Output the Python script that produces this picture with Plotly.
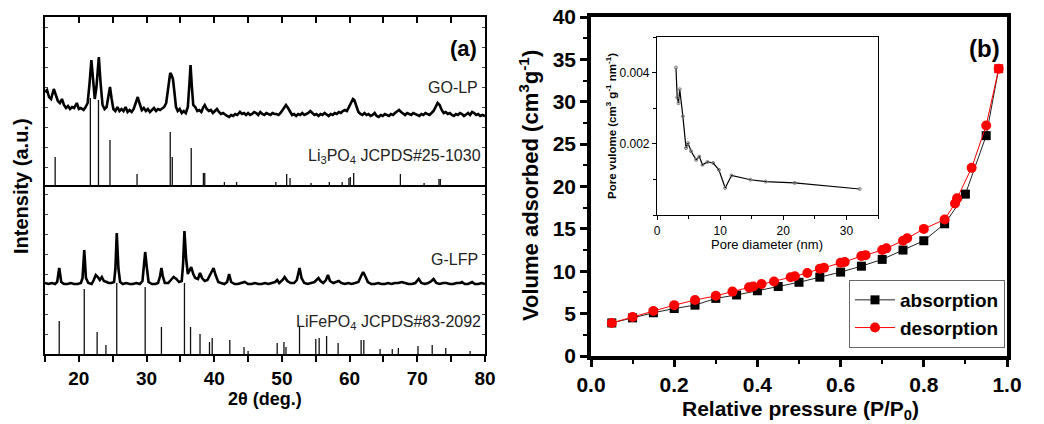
import plotly.graph_objects as go

# page offset of the plot div (browser default body margin)
OX, OY = 8, 8
W, H = 1036, 416
FONT = "Liberation Sans, Arial, sans-serif"

# ---------------- Panel (a): XRD ----------------
golp_2theta = [15.0, 15.3, 15.6, 15.9, 16.1, 16.3, 16.6, 16.9, 17.2, 17.5, 17.8, 18.1, 18.4, 18.7, 19.0, 19.3, 19.7, 20.0, 20.3, 20.7,
               21.0, 21.3, 21.6, 21.85, 22.1, 22.35, 22.6, 22.95, 23.2, 23.5, 23.8, 24.1, 24.35, 24.6, 24.85, 25.1, 25.4, 25.7, 26.0, 26.3,
               26.6, 26.9, 27.2, 27.5, 27.8, 28.1, 28.4, 28.7, 29.0, 29.3, 29.6, 29.9, 30.2, 30.5, 30.8, 31.1, 31.4, 31.7, 32.0, 32.3,
               32.6, 32.9, 33.2, 33.5, 33.7, 33.9, 34.1, 34.35, 34.6, 34.9, 35.2, 35.5, 35.8, 36.1, 36.35, 36.5, 36.7, 36.9, 37.2, 37.5,
               37.8, 38.1, 38.4, 38.6, 38.9, 39.2, 39.5, 39.8, 40.1, 40.4, 40.7, 41.0, 41.3, 41.6, 41.9, 42.2, 42.5, 42.8, 43.1, 43.4,
               43.8, 44.1, 44.4, 44.7, 45.0, 45.3, 45.6, 45.9, 46.2, 46.5, 46.8, 47.1, 47.4, 47.7, 48.0, 48.3, 48.6, 48.9, 49.2, 49.5,
               49.8, 50.1, 50.4, 50.6, 50.9, 51.2, 51.5, 51.8, 52.1, 52.4, 52.7, 53.0, 53.3, 53.6, 53.9, 54.2, 54.5, 54.8, 55.1, 55.4,
               55.7, 56.0, 56.3, 56.6, 56.9, 57.2, 57.5, 57.8, 58.1, 58.4, 58.7, 59.0, 59.3, 59.6, 59.9, 60.2, 60.5, 60.7, 61.0, 61.3,
               61.6, 61.9, 62.2, 62.5, 62.8, 63.1, 63.4, 63.7, 64.0, 64.3, 64.6, 64.9, 65.2, 65.5, 65.8, 66.1, 66.4, 66.7, 67.0, 67.3,
               67.6, 67.9, 68.2, 68.5, 68.8, 69.1, 69.4, 69.7, 70.0, 70.3, 70.6, 70.9, 71.2, 71.5, 71.8, 72.1, 72.4, 72.7, 73.0, 73.3,
               73.6, 73.9, 74.2, 74.5, 74.8, 75.1, 75.4, 75.7, 76.0, 76.3, 76.6, 76.9, 77.2, 77.5, 77.8, 78.1, 78.4, 78.7, 79.0, 79.3,
               79.6, 80.0]
golp_int = [95, 97, 90, 88, 93, 98, 92, 86, 84, 88, 82, 79, 81, 78, 80, 79, 84, 78, 79, 77,
            80, 84, 105, 127, 108, 88, 100, 130, 105, 82, 78, 80, 90, 100, 88, 78, 76, 80, 76, 78,
            76, 80, 75, 77, 75, 78, 84, 90, 83, 77, 79, 76, 78, 75, 77, 79, 76, 78, 77, 79,
            80, 84, 100, 114, 112, 108, 96, 80, 76, 78, 74, 76, 74, 80, 105, 122, 100, 82, 80, 76,
            77, 75, 80, 82, 78, 76, 77, 74, 76, 78, 75, 73, 74, 72, 71, 70, 72, 71, 73, 72,
            75, 73, 74, 72, 74, 72, 73, 75, 74, 72, 75, 73, 72, 74, 73, 72, 74, 73, 73, 72,
            74, 77, 80, 82, 79, 75, 72, 73, 71, 73, 72, 74, 72, 73, 74, 76, 74, 72, 73, 71,
            73, 72, 74, 72, 71, 73, 72, 74, 73, 75, 74, 76, 77, 76, 80, 83, 88, 87, 80, 75,
            73, 72, 74, 72, 73, 71, 72, 74, 71, 70, 72, 71, 73, 72, 71, 73, 72, 74, 76, 77,
            75, 73, 72, 74, 73, 72, 74, 73, 72, 71, 73, 72, 74, 73, 72, 74, 76, 80, 84, 82,
            77, 74, 75, 73, 74, 72, 71, 73, 72, 74, 73, 71, 73, 74, 72, 75, 74, 72, 73, 71,
            72, 71]

li3po4_pos = [16.5, 21.7, 22.9, 24.6, 28.6, 33.5, 33.8, 36.6, 38.4, 38.6, 41.5, 43.3, 49.1, 50.7, 51.2,
              54.3, 57.0, 58.9, 59.9, 60.1, 60.6, 67.5, 71.0, 73.2, 73.4]
li3po4_int = [30, 89, 87, 47, 13, 55, 30, 39, 14, 14, 5, 5, 5, 13, 9,
              4, 5, 5, 9, 10, 14, 13, 4, 8, 8]

glfp_2theta = [15.0, 15.5, 16.0, 16.5, 16.8, 17.1, 17.4, 17.8, 18.3, 18.8, 19.3, 19.8, 20.3, 20.55, 20.8, 21.05, 21.4, 21.9, 22.2, 22.5,
               22.8, 23.1, 23.4, 23.7, 24.1, 24.4, 24.8, 25.2, 25.4, 25.6, 25.85, 26.1, 26.5, 27.0, 27.5, 28.0, 28.5, 29.0, 29.4, 29.6,
               29.8, 30.05, 30.3, 30.8, 31.3, 31.7, 32.0, 32.2, 32.4, 32.7, 33.2, 33.6, 34.0, 34.4, 34.8, 35.2, 35.4, 35.6, 35.85, 36.1,
               36.4, 36.6, 36.9, 37.2, 37.6, 37.9, 38.2, 38.6, 39.0, 39.4, 39.7, 39.9, 40.2, 40.6, 41.0, 41.5, 41.9, 42.2, 42.5, 43.0,
               43.5, 44.0, 44.5, 45.0, 45.5, 46.0, 46.5, 47.0, 47.5, 48.0, 48.5, 49.0, 49.3, 49.6, 50.1, 50.4, 50.8, 51.3, 51.8, 52.2,
               52.6, 52.9, 53.3, 53.8, 54.3, 54.8, 55.1, 55.4, 55.7, 56.1, 56.5, 56.8, 57.1, 57.6, 58.0, 58.4, 58.8, 59.3, 59.8, 60.3,
               60.8, 61.3, 61.7, 62.0, 62.3, 62.7, 63.2, 63.7, 64.2, 64.7, 65.2, 65.7, 66.2, 66.7, 67.2, 67.7, 68.2, 68.7, 69.2, 69.7,
               70.2, 70.6, 71.1, 71.6, 72.1, 72.4, 72.8, 73.3, 73.8, 74.3, 74.8, 75.3, 75.8, 76.3, 76.6, 77.0, 77.5, 78.1, 78.5, 79.0,
               79.5, 80.0]
glfp_int = [71, 70, 71, 70, 72, 86, 72, 70, 70, 71, 70, 70, 71, 76, 104, 76, 71, 70, 74, 79,
            77, 74, 77, 73, 72, 71, 71, 72, 85, 121, 85, 72, 70, 71, 70, 70, 71, 70, 73, 88,
            102, 86, 72, 70, 70, 71, 78, 86, 78, 71, 71, 74, 77, 75, 72, 73, 90, 123, 95, 80,
            84, 87, 80, 76, 75, 81, 76, 73, 74, 80, 83, 86, 79, 72, 71, 70, 72, 80, 72, 70,
            70, 71, 72, 70, 70, 71, 70, 70, 71, 70, 71, 72, 74, 71, 74, 77, 73, 71, 71, 74,
            86, 76, 71, 70, 71, 72, 74, 76, 73, 71, 74, 79, 73, 71, 72, 73, 71, 70, 71, 70,
            71, 72, 78, 82, 78, 72, 70, 70, 71, 70, 70, 71, 70, 71, 71, 72, 71, 70, 70, 71,
            75, 71, 70, 71, 73, 75, 71, 70, 71, 71, 70, 70, 71, 71, 72, 70, 70, 72, 70, 70,
            71, 70]

lifepo4_pos = [17.1, 20.8, 22.7, 24.0, 25.6, 29.8, 32.2, 35.6, 36.5, 37.9, 39.3, 39.7, 42.3, 44.4, 45.0,
               49.3, 50.3, 50.6, 52.6, 55.0, 55.5, 56.6, 58.3, 61.7, 62.1, 64.5, 66.3, 67.2, 70.1, 72.2, 74.2, 77.8]
lifepo4_int = [33, 65, 22, 9, 71, 67, 27, 71, 27, 20, 12, 16, 14, 7, 3,
               11, 12, 7, 27, 15, 16, 18, 11, 14, 14, 5, 5, 6, 8, 9, 6, 3]

# ---------------- Panel (b): N2 isotherm ----------------
ads_p = [0.05, 0.10, 0.15, 0.20, 0.25, 0.30, 0.35, 0.40, 0.45, 0.50, 0.55, 0.60, 0.65, 0.70, 0.75, 0.80, 0.85, 0.90, 0.95, 0.98]
ads_v = [3.9, 4.5, 5.1, 5.6, 6.0, 6.8, 7.2, 7.7, 8.2, 8.7, 9.3, 9.9, 10.6, 11.4, 12.5, 13.6, 15.6, 19.1, 26.0, 33.9]
des_p = [0.05, 0.10, 0.15, 0.20, 0.25, 0.30, 0.34, 0.38, 0.39, 0.41, 0.44, 0.48, 0.49, 0.52, 0.55, 0.56, 0.60, 0.61,
         0.65, 0.66, 0.70, 0.71, 0.75, 0.76, 0.80, 0.85, 0.875, 0.88, 0.915, 0.95, 0.98]
des_v = [3.9, 4.6, 5.3, 6.0, 6.6, 7.1, 7.6, 8.1, 8.2, 8.5, 8.8, 9.3, 9.4, 9.8, 10.3, 10.4, 11.0, 11.1,
         11.8, 11.9, 12.5, 12.7, 13.6, 13.9, 15.0, 16.1, 18.0, 18.6, 22.2, 27.2, 33.9]

# inset: pore size distribution
pore_d = [3.0, 3.2, 3.4, 3.6, 4.1, 4.6, 4.9, 5.4, 6.2, 6.7, 7.2, 8.0, 8.9, 9.8, 10.8, 11.8, 14.8, 17.2, 21.8, 32.1]
pore_v = [0.00414, 0.0033, 0.00314, 0.00353, 0.00277, 0.00188, 0.00202, 0.00179, 0.00155, 0.00164,
          0.00141, 0.00149, 0.00146, 0.00127, 0.00076, 0.00111, 0.00099, 0.00094, 0.00090, 0.00073]


def px(x):
    return (x - OX) / W


def py(y):
    return 1 - (y - OY) / H


def sticks(pos, vals):
    xs, ys = [], []
    for p, v in zip(pos, vals):
        xs += [p, p, None]
        ys += [0, v, None]
    return xs, ys


fig = go.Figure()

# XRD traces
sx, sy = sticks(lifepo4_pos, lifepo4_int)
fig.add_trace(go.Scatter(x=sx, y=sy, mode="lines", line=dict(color="#111", width=1.3),
                         xaxis="x", yaxis="y", showlegend=False, hoverinfo="skip"))
fig.add_trace(go.Scatter(x=glfp_2theta, y=glfp_int, mode="lines", line=dict(color="black", width=2.6),
                         xaxis="x", yaxis="y", showlegend=False))
sx, sy = sticks(li3po4_pos, li3po4_int)
fig.add_trace(go.Scatter(x=sx, y=sy, mode="lines", line=dict(color="#111", width=1.3),
                         xaxis="x2", yaxis="y2", showlegend=False, hoverinfo="skip"))
fig.add_trace(go.Scatter(x=golp_2theta, y=golp_int, mode="lines", line=dict(color="black", width=2.6),
                         xaxis="x2", yaxis="y2", showlegend=False))

# Isotherm
ads_colors = ["black"] * (len(ads_p) - 1) + ["red"]
fig.add_trace(go.Scatter(x=ads_p, y=ads_v, mode="lines+markers", name="absorption",
                         line=dict(color="#222", width=1),
                         marker=dict(symbol="square", size=9, color=ads_colors, line=dict(width=0)),
                         xaxis="x3", yaxis="y3"))
fig.add_trace(go.Scatter(x=des_p, y=des_v, mode="lines+markers", name="desorption",
                         line=dict(color="red", width=1),
                         marker=dict(symbol="circle", size=10, color="red", line=dict(width=0)),
                         xaxis="x3", yaxis="y3"))

# Inset
fig.add_trace(go.Scatter(x=pore_d, y=pore_v, mode="lines+markers", line=dict(color="black", width=1.2),
                         marker=dict(symbol="circle-open", size=3, color="#777"),
                         xaxis="x4", yaxis="y4", showlegend=False))

tf_a = dict(family=FONT, size=19, color="black", weight="bold")
tf_b = dict(family=FONT, size=21, color="black", weight="bold")
tf_i = dict(family=FONT, size=12, color="black")

XA = [px(45), px(485)]
YB = [py(354), py(187)]
YT = [py(187), py(17)]

common = dict(automargin=False, showgrid=False, zeroline=False, ticklabeloverflow="allow")

fig.update_layout(
    width=W, height=H, margin=dict(l=0, r=0, t=0, b=0, autoexpand=False),
    paper_bgcolor="white", plot_bgcolor="white",
    font=dict(family=FONT, color="black"),
    xaxis=dict(domain=XA, anchor="y", range=[15, 80], tickmode="linear", tick0=0, dtick=10,
               ticks="outside", ticklen=6, tickwidth=2, tickcolor="black",
               minor=dict(dtick=5, tick0=0, ticks="outside", ticklen=6, tickwidth=2, tickcolor="black"),
               showline=True, linewidth=2, linecolor="black", mirror=True,
               tickfont=tf_a, **common),
    yaxis=dict(domain=YB, anchor="x", range=[0, 167], showticklabels=False,
               ticks="inside", ticklen=3, tickwidth=1, dtick=20, tickcolor="#444",
               showline=True, linewidth=2, linecolor="black", mirror="ticks", **common),
    xaxis2=dict(domain=XA, anchor="y2", matches="x", side="top", range=[15, 80],
                tickmode="linear", tick0=0, dtick=5, ticks="inside", ticklen=6, tickwidth=2,
                tickcolor="black", showticklabels=False,
                showline=True, linewidth=2, linecolor="black", mirror=False, **common),
    yaxis2=dict(domain=YT, anchor="x2", range=[0, 170], showticklabels=False,
                ticks="inside", ticklen=3, tickwidth=1, dtick=20, tickcolor="#444",
                showline=True, linewidth=2, linecolor="black", mirror="ticks", **common),
    xaxis3=dict(domain=[px(591), px(1007)], anchor="y3", range=[0, 1], tickmode="linear",
                tick0=0, dtick=0.2, tickformat=".1f",
                ticks="outside", ticklen=7, tickwidth=2.5, tickcolor="black",
                minor=dict(dtick=0.1, ticks="outside", ticklen=4, tickwidth=2, tickcolor="black"),
                showline=True, linewidth=3.5, linecolor="black", mirror=True,
                tickfont=tf_b, **common),
    yaxis3=dict(domain=[py(356), py(17)], anchor="x3", range=[0, 40], tickmode="linear",
                tick0=0, dtick=5,
                ticks="outside", ticklen=7, tickwidth=2.5, tickcolor="black",
                minor=dict(dtick=2.5, ticks="outside", ticklen=4, tickwidth=2, tickcolor="black"),
                showline=True, linewidth=3.5, linecolor="black", mirror=True,
                tickfont=tf_b, **common),
    xaxis4=dict(domain=[px(657), px(878)], anchor="y4", range=[0, 35], tickvals=[0, 10, 20, 30],
                ticks="outside", ticklen=4, tickwidth=1, tickcolor="black",
                minor=dict(dtick=5, ticks="outside", ticklen=3, tickwidth=1, tickcolor="black"),
                showline=True, linewidth=1.2, linecolor="black", mirror=True,
                tickfont=tf_i, **common),
    yaxis4=dict(domain=[py(215), py(37)], anchor="x4", range=[0, 0.005],
                tickvals=[0.002, 0.004], ticktext=["0.002", "0.004"],
                ticks="outside", ticklen=4, tickwidth=1, tickcolor="black",
                minor=dict(dtick=0.001, ticks="outside", ticklen=3, tickwidth=1, tickcolor="black"),
                showline=True, linewidth=1.2, linecolor="black", mirror=True,
                tickfont=tf_i, **common),
    legend=dict(x=px(1005), xanchor="right", y=py(280), yanchor="top",
                bgcolor="white", bordercolor="#666", borderwidth=1,
                font=dict(family=FONT, size=19, color="black", weight="bold"),
                tracegroupgap=0, itemwidth=40),
)


def ann(text, x, y, size, bold=False, xanchor="center", angle=0, color="black"):
    fig.add_annotation(text=text, x=px(x), y=py(y), xref="paper", yref="paper",
                       xanchor=xanchor, yanchor="middle", showarrow=False, textangle=angle,
                       font=dict(family=FONT, size=size, color=color,
                                 weight="bold" if bold else "normal"))


# panel (a) texts
ann("(a)", 479, 48, 22, bold=True, xanchor="right")
ann("GO-LP", 480, 87, 16, xanchor="right", color="#222")
ann("Li<sub>3</sub>PO<sub>4</sub> JCPDS#25-1030", 483, 157, 16, xanchor="right", color="#222")
ann("G-LFP", 480, 259, 16, xanchor="right", color="#222")
ann("LiFePO<sub>4</sub> JCPDS#83-2092", 483, 322, 16, xanchor="right", color="#222")
ann("Intensity (a.u.)", 21, 186, 20, bold=True, angle=-90)
ann("2θ (deg.)", 265, 399, 18, bold=True)

# panel (b) texts
ann("(b)", 1002, 48, 24, bold=True, xanchor="right")
ann("Volume adsorbed (cm<sup>3</sup>g<sup>-1</sup>)", 529, 186, 22, bold=True, angle=-90)
ann("Relative pressure (P/P<sub>0</sub>)", 800, 410, 21, bold=True)
ann("Pore diameter (nm)", 767, 244, 13)
ann("Pore vulome (cm<sup>3</sup> g<sup>-1</sup> nm<sup>-1</sup>)", 611, 126, 11.5, bold=True, angle=-90)

fig.write_html("out.html")
